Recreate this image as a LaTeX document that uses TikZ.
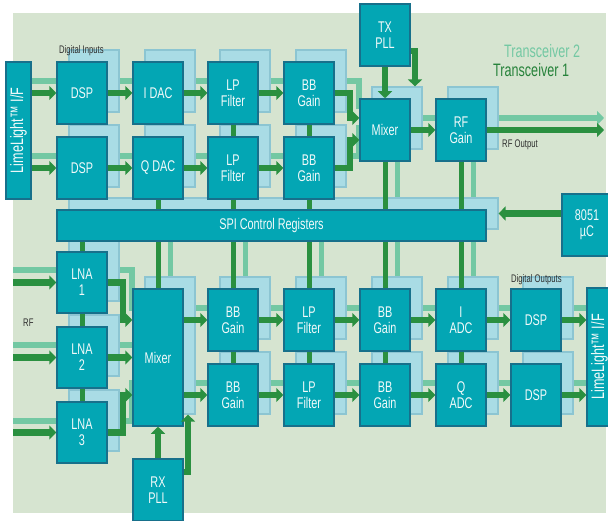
\documentclass[tikz,border=0pt]{standalone}
\usepackage{fontspec}
\setmainfont[FakeStretch=0.7]{Liberation Sans}
\usetikzlibrary{arrows.meta}
\definecolor{panelc}{HTML}{D6E4D0}
\definecolor{mainteal}{HTML}{03A6B4}
\definecolor{tealborder}{HTML}{17708B}
\definecolor{backfill}{HTML}{A9DCE5}
\definecolor{backborder}{HTML}{8CC5D2}
\definecolor{dgreen}{HTML}{2A9040}
\definecolor{lgreen}{HTML}{73C8A3}
\definecolor{boxtext}{HTML}{F2FAFA}
\definecolor{notegray}{HTML}{2E2E2E}
\pgfdeclarelayer{panel}
\pgfdeclarelayer{lgr}
\pgfdeclarelayer{back}
\pgfsetlayers{panel,lgr,back,main}
\newcommand\mkblock[6]{%
  \node[mainbox, minimum width=#4pt, minimum height=#5pt] (#1) at (#2,#3) {#6};
  \begin{pgfonlayer}{back}
    \node[backbox, minimum width=#4pt, minimum height=#5pt] (#1b) at ({#2+12},{#3-12}) {};
  \end{pgfonlayer}}
\begin{document}
\begin{tikzpicture}[x=1pt,y=-1pt,
  mainbox/.style={draw=tealborder, fill=mainteal, line width=1.5pt, inner sep=0pt,
    text=boxtext, align=center, font=\fontsize{15.5}{16}\selectfont},
  backbox/.style={draw=backborder, fill=backfill, line width=1.2pt, inner sep=0pt},
  dg/.style={draw=dgreen, line width=6.5pt},
  dga/.style={dg, -{Triangle[length=7pt,width=14pt]}},
  dgv/.style={draw=dgreen, line width=5pt},
  lg/.style={draw=lgreen, line width=6pt},
  lga/.style={lg, -{Triangle[length=7pt,width=14pt]}},
  lgv/.style={draw=lgreen, line width=5pt},
  note/.style={text=notegray, font=\fontsize{11}{12}\selectfont, inner sep=0pt},
  bigtxt/.style={font=\fontsize{18}{18}\selectfont, inner sep=0pt}]
\useasboundingbox (0,0) rectangle (608,521);
\begin{pgfonlayer}{panel}
  \fill[white] (0,0) rectangle (608,521);
  \fill[panelc] (13,13) rectangle (606,513);
\end{pgfonlayer}
\coordinate (edgeL) at (13,0);
\coordinate (edgeR) at (604,0);

% ---------- transmitter ----------
\node[mainbox, minimum width=25pt, minimum height=137pt] (LLL) at (18.5,130.5)
  {\rotatebox{90}{\fontsize{18}{18}\selectfont LimeLight™ I/F}};
\mkblock{DSP1}{82}{93}{50}{62}{DSP}
\mkblock{DSP2}{82}{168}{50}{62}{DSP}
\mkblock{IDAC}{158}{93}{50}{62}{I DAC}
\mkblock{QDAC}{158}{168}{50}{62}{Q DAC}
\mkblock{TLP1}{233}{93}{50}{62}{LP\\Filter}
\mkblock{TLP2}{233}{168}{50}{62}{LP\\Filter}
\mkblock{TBB1}{309}{93}{50}{62}{BB\\Gain}
\mkblock{TBB2}{309}{168}{50}{62}{BB\\Gain}
\mkblock{TMix}{385}{130}{50}{62}{Mixer}
\mkblock{RF}{461}{130}{50}{62}{RF\\Gain}
\node[mainbox, minimum width=50pt, minimum height=62pt] (TX) at (385,35) {TX\\PLL};
\mkblock{SPI}{271.5}{225.5}{429}{31}{SPI Control Registers}
\node[mainbox, minimum width=50pt, minimum height=62pt] (MC) at (587,225) {8051\\µC};

% ---------- receiver ----------
\mkblock{LNA1}{82}{282.5}{50}{61}{LNA\\1}
\mkblock{LNA2}{82}{357.5}{50}{61}{LNA\\2}
\mkblock{LNA3}{82}{432.5}{50}{61}{LNA\\3}
\mkblock{RMix}{158}{357.5}{50}{137}{Mixer}
\node[mainbox, minimum width=50pt, minimum height=62pt] (RX) at (158,490) {RX\\PLL};
\mkblock{BBL1}{233}{320}{50}{62}{BB\\Gain}
\mkblock{BBL2}{233}{395}{50}{62}{BB\\Gain}
\mkblock{LPL1}{309}{320}{50}{62}{LP\\Filter}
\mkblock{LPL2}{309}{395}{50}{62}{LP\\Filter}
\mkblock{BBL3}{385}{320}{50}{62}{BB\\Gain}
\mkblock{BBL4}{385}{395}{50}{62}{BB\\Gain}
\mkblock{ADC1}{461}{320}{50}{62}{I\\ADC}
\mkblock{ADC2}{461}{395}{50}{62}{Q\\ADC}
\mkblock{DSPL1}{536}{320}{50}{62}{DSP}
\mkblock{DSPL2}{536}{395}{50}{62}{DSP}
\node[mainbox, minimum width=25pt, minimum height=138pt] (LLR) at (599.5,357)
  {\rotatebox{90}{\fontsize{18}{18}\selectfont LimeLight™ I/F}};

% ---------- labels ----------
\node[note, anchor=base west] (dinl) at (59,54) {Digital Inputs};
\node[note, anchor=base west] (doutl) at (511,283) {Digital Outputs};
\node[note, anchor=base west] (rfo) at (502,148) {RF Output};
\node[note, anchor=base west] (rfl) at (23,327) {RF};
\node[bigtxt, text=lgreen, anchor=base west] (t2) at (504,58) {Transceiver 2};
\node[bigtxt, text=dgreen!90!black, anchor=base west] (t1) at (493,77) {Transceiver 1};

% ---------- Transceiver 2 (light green) paths ----------
\begin{pgfonlayer}{lgr}
  \draw[lg] (LLL.east |- DSP1b.center) -- (TBB1b.east) -- ++(12,0) |- ([yshift=12pt]TMixb.west);
  \draw[lg] (LLL.east |- DSP2b.center) -- (TBB2b.east) -- ++(12,0) |- ([yshift=-10pt]TMixb.west);
  \draw[lg] (TMixb.center) -- (RFb.center);
  \draw[lga] (RFb.east) -- (edgeR |- RFb.east);
  \draw[lgv] (TMixb.south) -- (TMixb.south |- SPIb.north);
  \draw[lgv] (RFb.south) -- (RFb.south |- SPIb.north);
  \draw[lg] (edgeL |- LNA1b.center) -- (LNA1b.center);
  \draw[lg] (edgeL |- LNA2b.center) -- (LNA2b.center);
  \draw[lg] (edgeL |- LNA3b.center) -- (LNA3b.center);
  \draw[lg] (LNA1b.east) -- ++(12,0) |- (RMixb.west |- BBL1b.west);
  \draw[lg] (LNA2b.east) -- (RMixb.west |- LNA2b.east);
  \draw[lg] (LNA3b.east) -- ++(12,0) |- (RMixb.west |- BBL2b.west);
  \draw[lg] (RMixb.center |- BBL1b.center) -- (LLR.west |- BBL1b.center);
  \draw[lg] (RMixb.center |- BBL2b.center) -- (LLR.west |- BBL2b.center);
  \draw[lgv] (RMixb.north |- SPI.south) -- (RMixb.north);
  \draw[lgv] (BBL1b.north |- SPI.south) -- (BBL1b.north);
  \draw[lgv] (LPL1b.north |- SPI.south) -- (LPL1b.north);
  \draw[lgv] (BBL3b.north |- SPI.south) -- (BBL3b.north);
  \draw[lgv] (ADC1b.north |- SPI.south) -- (ADC1b.north);
\end{pgfonlayer}

% ---------- Transceiver 1 (dark green) paths ----------
\draw[dga] (LLL.east |- DSP1.west) -- (DSP1.west);
\draw[dga] (DSP1.east) -- (IDAC.west);
\draw[dga] (IDAC.east) -- (TLP1.west);
\draw[dga] (TLP1.east) -- (TBB1.west);
\draw[dga] (LLL.east |- DSP2.west) -- (DSP2.west);
\draw[dga] (DSP2.east) -- (QDAC.west);
\draw[dga] (QDAC.east) -- (TLP2.west);
\draw[dga] (TLP2.east) -- (TBB2.west);
\draw[dga] (TBB1.east) -- ++(15,0) |- ([yshift=12pt]TMix.west);
\draw[dga] (TBB2.east) -- ++(15,0) |- ([yshift=-10pt]TMix.west);
\draw[dga] (TMix.east) -- (RF.west);
\draw[dga] (RF.east) -- (edgeR |- RF.east);
\draw[dga] (TX.south) -- (TMix.north);
\draw[dga] ([yshift=-16pt]TX.east) -| ([xshift=18pt]TMixb.north);
\draw[dga] (MC.west |- SPIb.east) -- (SPIb.east);

\draw[dgv] (QDAC.south) -- (QDAC.south |- SPI.north);
\draw[dgv] (TLP1.south) -- (TLP2.north);
\draw[dgv] (TLP2.south) -- (TLP2.south |- SPI.north);
\draw[dgv] (TBB1.south) -- (TBB2.north);
\draw[dgv] (TBB2.south) -- (TBB2.south |- SPI.north);
\draw[dgv] (TMix.south) -- (TMix.south |- SPI.north);
\draw[dgv] (RF.south) -- (RF.south |- SPI.north);

\draw[dgv] (LNA1.north |- SPI.south) -- (LNA1.north);
\draw[dgv] (LNA1.south) -- (LNA2.north);
\draw[dgv] (LNA2.south) -- (LNA3.north);
\draw[dgv] (RMix.north |- SPI.south) -- (RMix.north);
\draw[dgv] (BBL1.north |- SPI.south) -- (BBL1.north);
\draw[dgv] (BBL1.south) -- (BBL2.north);
\draw[dgv] (LPL1.north |- SPI.south) -- (LPL1.north);
\draw[dgv] (LPL1.south) -- (LPL2.north);
\draw[dgv] (BBL3.north |- SPI.south) -- (BBL3.north);
\draw[dgv] (BBL3.south) -- (BBL4.north);
\draw[dgv] (ADC1.north |- SPI.south) -- (ADC1.north);
\draw[dgv] (ADC1.south) -- (ADC2.north);

\draw[dga] (edgeL |- LNA1.west) -- (LNA1.west);
\draw[dga] (edgeL |- LNA2.west) -- (LNA2.west);
\draw[dga] (edgeL |- LNA3.west) -- (LNA3.west);
\draw[dga] (LNA1.east) -- ++(15,0) |- (RMix.west |- BBL1.west);
\draw[dga] (LNA2.east) -- (RMix.west |- LNA2.east);
\draw[dga] (LNA3.east) -- ++(15,0) |- (RMix.west |- BBL2.west);

\draw[dga] (RMix.east |- BBL1.west) -- (BBL1.west);
\draw[dga] (BBL1.east) -- (LPL1.west);
\draw[dga] (LPL1.east) -- (BBL3.west);
\draw[dga] (BBL3.east) -- (ADC1.west);
\draw[dga] (ADC1.east) -- (DSPL1.west);
\draw[dga] (DSPL1.east) -- (LLR.west |- DSPL1.east);
\draw[dga] (RMix.east |- BBL2.west) -- (BBL2.west);
\draw[dga] (BBL2.east) -- (LPL2.west);
\draw[dga] (LPL2.east) -- (BBL4.west);
\draw[dga] (BBL4.east) -- (ADC2.west);
\draw[dga] (ADC2.east) -- (DSPL2.west);
\draw[dga] (DSPL2.east) -- (LLR.west |- DSPL2.east);

\draw[dga] (RX.north) -- (RMix.south);
\draw[dga] ([yshift=18pt]RX.east) -| ([xshift=18pt]RMixb.south);
\end{tikzpicture}
\end{document}
